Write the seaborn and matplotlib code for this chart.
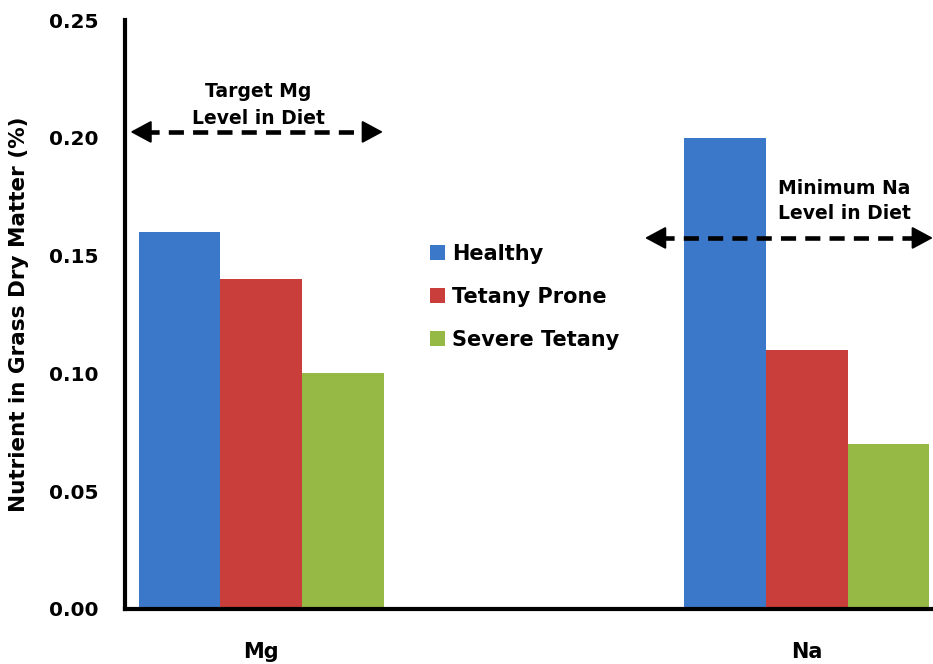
import matplotlib
matplotlib.use("Agg")
import matplotlib.pyplot as plt
import seaborn as sns
import pandas as pd

nutrients = ["Mg", "Na"]
slots = ["Mg", " ", "Na"]
groups = ["Healthy", "Tetany Prone", "Severe Tetany"]
healthy = [0.16, 0.20]
tetany_prone = [0.14, 0.11]
severe_tetany = [0.10, 0.07]
colors = ["#3C78C9", "#C93D3B", "#95B944"]
yticks = [0.00, 0.05, 0.10, 0.15, 0.20, 0.25]

rows = []
for vals, g in zip([healthy, tetany_prone, severe_tetany], groups):
    for n, v in zip(nutrients, vals):
        rows.append({"Nutrient": n, "Group": g, "Value": v})
df = pd.DataFrame(rows)

sns.set_style("white")
plt.rcParams['font.family'] = ['DejaVu Sans']
plt.rcParams['font.weight'] = 'bold'
plt.rcParams['text.color'] = 'black'
plt.rcParams['axes.labelcolor'] = 'black'
plt.rcParams['xtick.color'] = 'black'
plt.rcParams['ytick.color'] = 'black'

fig = plt.figure(figsize=(9.33, 6.64), dpi=100)
ax = fig.add_axes([125/933, 1-609/664, 818/933, 589/664])

sns.barplot(data=df, x="Nutrient", y="Value", hue="Group", order=slots,
            hue_order=groups, palette=colors, width=0.9, gap=0,
            edgecolor="none", saturation=1, ax=ax, legend=True)

ax.set_xlim(-0.5, 2.5)
ax.set_ylim(0, 0.25)
ax.set_yticks(yticks)
ax.set_yticklabels([f"{t:.2f}" for t in yticks], fontsize=14.5, fontweight='bold')
ax.set_xticks([0, 1, 2])
ax.set_xticklabels(["Mg", "", "Na"], fontsize=15, fontweight='bold')
ax.tick_params(axis='x', which='major', length=0, pad=24)
ax.set_xticks([-0.5, 0.5, 1.5, 2.5], minor=True)
ax.tick_params(axis='x', which='minor', length=7, width=3, direction='out', color='black')
ax.tick_params(axis='y', which='major', length=7, width=3, direction='out', color='black', pad=12)
for s in ['top', 'right']:
    ax.spines[s].set_visible(False)
for s in ['left', 'bottom']:
    ax.spines[s].set_linewidth(3)
    ax.spines[s].set_color('black')
ax.set_xlabel("")
ax.set_ylabel("Nutrient in Grass Dry Matter (%)", fontsize=15.5, fontweight='bold')
ax.yaxis.set_label_coords(-0.117, 0.5)

leg = ax.legend(loc='upper left', bbox_to_anchor=(0.35, 0.652), frameon=False,
                prop={'weight': 'bold', 'size': 15}, handlelength=0.7, handleheight=0.7,
                handletextpad=0.35, labelspacing=1.1)

def dashed_arrow(x0, x1, y):
    ax.plot([x0 + 0.05, x1 - 0.05], [y, y], color='black', lw=3.3, linestyle=(0, (3.3, 2.0)),
            clip_on=False, solid_capstyle='butt')
    for a, b in [(x0 + 0.07, x0), (x1 - 0.07, x1)]:
        ax.annotate("", xy=(b, y), xytext=(a, y),
                    arrowprops=dict(arrowstyle='-|>,head_length=1.3,head_width=0.7',
                                    mutation_scale=10, color='black', lw=1.5,
                                    shrinkA=0, shrinkB=0),
                    annotation_clip=False)

dashed_arrow(-0.48, 0.446, 0.2025)
dashed_arrow(1.407, 2.463, 0.1575)

ax.text(-0.012, 0.2139, "Target Mg\nLevel in Diet", ha='center', va='center',
        fontsize=13.5, fontweight='bold', linespacing=1.5)
ax.text(2.137, 0.1732, "Minimum Na\nLevel in Diet", ha='center', va='center',
        fontsize=13.5, fontweight='bold', linespacing=1.4)

fig.savefig("out.png", dpi=100)
